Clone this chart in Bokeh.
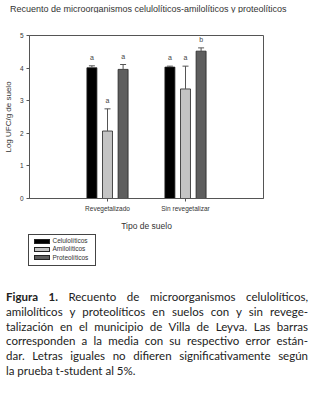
from bokeh.plotting import figure
from bokeh.models import FactorRange, ColumnDataSource, FixedTicker, Div
from bokeh.transform import dodge
from bokeh.layouts import column
from bokeh.core.properties import value
from bokeh.embed import file_html
from bokeh.resources import INLINE

# ---- data ----
title_text = "Recuento de microorganismos celulolíticos-amilolíticos y proteolíticos"
soils = ["Revegetalizado", "Sin revegetalizar"]
series = ["Celulolíticos", "Amilolíticos", "Proteolíticos"]
celuloliticos = [4.01, 4.03]
celuloliticos_err = [0.06, 0.03]
amiloliticos = [2.07, 3.36]
amiloliticos_err = [0.68, 0.70]
proteoliticos = [3.96, 4.52]
proteoliticos_err = [0.15, 0.10]
letters_cel = ["a", "a"]
letters_ami = ["a", "a"]
letters_pro = ["a", "b"]
y_ticks = [0, 1, 2, 3, 4, 5]

caption_lines = [
    "<b>Figura 1.</b> Recuento de microorganismos celulolíticos,",
    "amilolíticos y proteolíticos en suelos con y sin revege-",
    "talización en el municipio de Villa de Leyva. Las barras",
    "corresponden a la media con su respectivo error están-",
    "dar. Letras iguales no difieren significativamente según",
    "la prueba t-student al 5%.",
]

colors = ["#000000", "#c4c4c4", "#5e5e5e"]
offsets = [-0.2, 0.0, 0.2]
vals = [celuloliticos, amiloliticos, proteoliticos]
errs = [celuloliticos_err, amiloliticos_err, proteoliticos_err]
lets = [letters_cel, letters_ami, letters_pro]

FONT = "Liberation Sans"

# ---- title ----
title_div = Div(text=('<div style="font-family: \'Liberation Sans\', Arial, sans-serif; '
                      'font-size: 9px; line-height: 12px; color: #333; padding-left: 10px; '
                      'white-space: nowrap;">%s</div>' % title_text),
                width=314, height=12, margin=(0, 0, 0, 0))

# ---- main chart ----
p = figure(x_range=FactorRange(factors=soils, range_padding=0.5), y_range=(0, 5),
           width=314, height=221, output_backend="svg", toolbar_location=None,
           min_border_left=29, min_border_right=51, min_border_top=23, min_border_bottom=30)
p.title = None

for name, v, e, l, c, off in zip(series, vals, errs, lets, colors, offsets):
    src = ColumnDataSource(dict(soil=soils, val=v, top=[a + b for a, b in zip(v, e)], lab=l))
    xs = dodge("soil", off, range=p.x_range)
    p.vbar(x=xs, top="val", width=0.128, source=src, fill_color=c,
           line_color="#222222", line_width=0.8)
    p.segment(x0=xs, y0="val", x1=xs, y1="top", source=src, line_color="#555555", line_width=1)
    p.scatter(x=xs, y="top", marker="dash", size=6, source=src, line_color="#555555", line_width=1)
    p.text(x=xs, y="top", text="lab", source=src, text_font=value(FONT), text_font_size="7px",
           text_color="#444444", text_align="center", text_baseline="bottom", y_offset=-5)

p.xgrid.visible = False
p.ygrid.visible = False
p.outline_line_color = "#555555"
p.outline_line_width = 1

p.yaxis.ticker = FixedTicker(ticks=y_ticks)
p.yaxis.axis_label = "Log UFC/g de suelo"
p.xaxis.axis_label = "Tipo de suelo"
for ax in (p.xaxis[0], p.yaxis[0]):
    ax.axis_line_color = "#555555"
    ax.major_tick_line_color = "#555555"
    ax.major_tick_out = 3
    ax.major_tick_in = 0
    ax.minor_tick_line_color = None
    ax.major_label_text_font = FONT
    ax.major_label_text_font_size = "6.5px"
    ax.major_label_text_color = "#333333"
    ax.major_label_standoff = 3
    ax.axis_label_text_font = FONT
    ax.axis_label_text_font_style = "normal"
    ax.axis_label_text_color = "#333333"
p.xaxis.axis_label_text_font_size = "8.5px"
p.yaxis.axis_label_text_font_size = "8px"
p.xaxis.axis_label_standoff = 6
p.yaxis.axis_label_standoff = 4

# ---- legend (HTML, built from the series names and colours) ----
row_html = ""
for i, (name, c) in enumerate(zip(series, colors)):
    cy = 6.0 + 8.3 * i
    row_html += ('<div style="position:absolute; left:4.5px; top:%.1fpx; width:16.5px; height:5px; '
                 'box-sizing:border-box; background:%s; border:0.8px solid #222;"></div>'
                 '<div style="position:absolute; left:23.5px; top:%.1fpx; height:8px; '
                 'line-height:8px; font-family:\'Liberation Sans\', Arial, sans-serif; '
                 'font-size:6.5px; color:#333; white-space:nowrap;">%s</div>'
                 % (cy - 2.5, c, cy - 4.0, name))
legend_div = Div(text=('<div style="position:relative; width:314px; height:57px;">'
                       '<div style="position:absolute; left:28px; top:1px; width:68px; height:32px; '
                       'box-sizing:border-box; border:1px solid #444;">'
                       + row_html + '</div></div>'),
                 width=314, height=57, margin=(0, 0, 0, 0))

# ---- caption ----
line_style = ("text-align: justify; text-align-last: justify; white-space: nowrap; "
              "overflow: visible;")
last_style = "text-align: left; white-space: nowrap;"
html_lines = "".join(
    '<div style="%s">%s</div>' % (last_style if i == len(caption_lines) - 1 else line_style, ln)
    for i, ln in enumerate(caption_lines))
caption = Div(text=('<div style="font-family: Lato, sans-serif; font-size: 11.5px; '
                    'line-height: 14.8px; color: #222; width: 302px; margin-left: 6px;">'
                    + html_lines + '</div>'),
              width=314, height=109, margin=(0, 0, 0, 0))

layout = column(title_div, p, legend_div, caption, spacing=0)
open("out.html", "w").write(file_html(layout, INLINE))
